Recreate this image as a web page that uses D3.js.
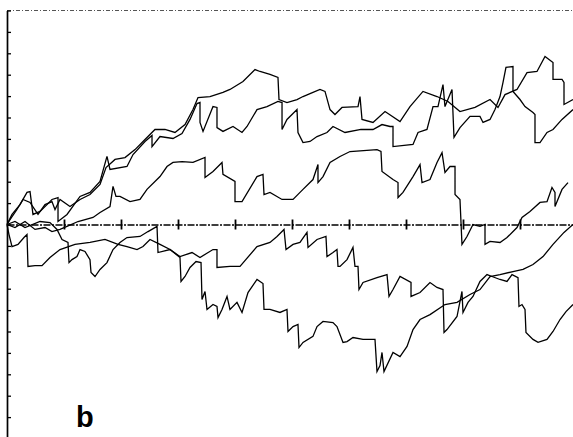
<!DOCTYPE html>
<html>
<head>
<meta charset="utf-8">
<script src="https://cdn.jsdelivr.net/npm/d3@7"></script>
<style>
  html, body { margin: 0; padding: 0; background: #fff; }
  svg { display: block; }
</style>
</head>
<body>
<svg id="chart" width="573" height="437"></svg>
<script>
// Time runs 0..100 (axis marks every 10); values are in axis-mark units, -10..10.
const timeTicks = [10, 20, 30, 40, 50, 60, 70, 80, 90];
const valueTicks = d3.range(-10, 11);
const panelLabel = "b";

// Five sample paths, each as [time, value] pairs.
const walkP = [
  [0,0],[0.53,0.23],[1.75,0.70],[2.81,1.17],[4.04,1.03],[5.44,0.47],[6.67,0.93],[7.89,1.07],
  [8.42,0.70],[9.30,1.17],[11.05,0.84],[12.81,1.17],[14.56,1.40],[16.32,1.87],[17.37,2.66],
  [18.95,3.04],[20.70,3.13],[22.46,3.50],[24.21,3.97],[25.96,4.44],[27.72,4.44],[29.47,4.30],
  [31.23,4.67],[32.63,5.37],[33.51,5.93],[35.61,5.98],[37.89,6.17],[39.12,6.31],[41.40,6.68],
  [43.51,7.24],[44.39,7.15],[46.14,7.01],[47.54,6.87],[47.72,5.84],[49.12,5.70],[50.88,5.84],
  [51.93,5.98],[53.68,6.17],[54.91,6.31],[55.79,6.22],[56.67,5.37],[57.54,5.14],[58.77,5.47],
  [61.58,5.51],[61.93,5.98],[62.28,4.91],[64.21,4.77],[66.32,5.28],[68.95,4.81],[70.70,5.51],
  [72.98,6.22],[75.44,5.98],[77.37,5.75],[79.47,5.28],[82.11,5.47],[84.74,5.84],[86.14,5.47],
  [87.37,6.07],[89.47,6.31],[91.23,7.10],[92.98,7.15],[94.39,7.85],[95.79,7.57],[95.79,6.78],
  [97.37,6.78],[97.72,6.64],[97.72,5.61],[99.30,5.84]
];

const walkU = [
  [0,0],[0.88,0.47],[2.28,0.93],[3.51,1.50],[4.04,1.54],[4.56,0.47],[5.79,0.61],[7.02,0.93],
  [7.89,1.17],[8.95,1.26],[8.95,0.14],[10.53,0.47],[12.81,1.31],[14.56,1.50],[16.32,2.01],
  [17.54,3.18],[18.07,2.57],[21.05,2.71],[22.11,3.27],[24.21,3.88],[25.44,4.16],[25.44,3.64],
  [26.84,4.11],[29.12,4.02],[30.70,4.25],[32.11,4.91],[33.33,5.65],[33.86,5.70],[33.86,4.77],
  [34.39,4.35],[36.14,5.51],[36.84,5.47],[36.84,4.53],[37.89,4.35],[39.65,4.58],[41.23,4.30],
  [42.11,4.58],[43.86,5.37],[45.61,5.51],[47.54,5.75],[48.25,5.70],[48.25,4.44],[49.12,4.91],
  [50.88,5.37],[51.05,4.30],[51.93,3.83],[53.16,3.88],[54.39,4.11],[56.14,4.30],[57.19,4.58],
  [59.30,4.30],[62.11,4.44],[64.21,4.44],[65.79,4.67],[67.19,4.58],[67.72,4.58],[67.72,3.64],
  [71.23,3.74],[72.11,4.30],[73.68,4.44],[74.74,5.51],[75.61,5.51],[76.49,6.54],[76.84,5.51],
  [78.07,6.31],[78.42,4.07],[79.47,4.53],[81.23,5.05],[82.98,5.05],[83.51,4.77],[84.74,4.91],
  [85.61,5.37],[86.49,5.98],[87.02,6.64],[87.54,7.34],[88.77,7.38],[88.77,6.22],[90.00,5.84],
  [90.88,5.51],[92.28,5.23],[92.63,5.14],[92.63,3.83],[93.51,3.83],[94.74,4.30],[95.79,4.44],
  [97.37,4.91],[99.30,5.37]
];

const walkM = [
  [0,0],[1.40,-0.14],[3.16,0.14],[4.91,-0.23],[6.67,-0.14],[7.89,-0.33],[9.30,-0.23],[10.53,-0.09],
  [12.46,0.14],[15.09,0.33],[16.32,0.56],[18.07,0.84],[18.60,1.78],[19.12,1.31],[19.82,1.31],
  [21.58,1.07],[23.33,1.17],[24.56,1.64],[26.84,2.24],[28.07,2.71],[29.12,2.90],[30.70,2.94],
  [32.63,2.90],[34.74,3.13],[34.74,2.20],[36.14,2.48],[37.72,2.90],[37.89,2.34],[40.00,2.01],
  [40.00,1.07],[41.23,1.07],[43.86,2.24],[44.91,2.34],[45.09,1.40],[46.14,1.50],[48.25,1.17],
  [50.18,1.17],[51.93,1.64],[53.68,2.10],[54.56,2.80],[54.56,1.96],[55.44,2.24],[56.67,2.90],
  [58.42,3.18],[60.18,3.41],[64.91,3.50],[65.61,3.41],[65.79,2.48],[67.72,2.10],[68.60,1.96],
  [68.60,1.26],[69.47,1.50],[71.23,2.24],[72.46,2.80],[72.81,1.96],[74.21,2.10],[75.44,2.90],
  [76.32,3.36],[76.84,2.43],[77.72,2.71],[78.60,2.71],[78.60,1.40],[79.47,1.17],[79.82,-0.93],
  [80.70,-0.56],[81.75,0],[82.98,-0.09],[83.86,0],[83.86,-0.93],[84.74,-0.79],[86.49,-0.84],
  [87.72,-0.61],[89.47,-0.14],[90.35,0.33],[91.75,0.61],[93.51,1.03],[94.74,1.07],[95.61,1.73],
  [96.14,1.50],[96.14,0.84],[97.37,1.64],[98.42,1.96]
];

const walkL2 = [
  [0,0],[1.40,0.14],[3.16,-0.14],[5.79,0.14],[7.54,0.09],[8.77,-0.23],[9.65,-0.70],[10.70,-0.84],
  [10.88,-1.78],[11.40,-1.64],[12.28,-1.50],[12.81,-1.17],[13.68,-1.26],[14.56,-1.64],[14.74,-2.24],
  [15.44,-2.43],[16.32,-2.10],[17.54,-1.78],[18.60,-1.17],[19.82,-0.84],[21.05,-0.61],[23.33,-0.56],
  [24.74,-0.33],[26.32,-0.09],[26.49,-1.31],[28.60,-1.17],[30.35,-1.50],[32.46,-1.31],[33.86,-1.54],
  [36.14,-1.17],[36.84,-1.17],[36.84,-2.01],[39.12,-1.96],[40.88,-1.96],[43.86,-1.03],[46.14,-0.84],
  [47.37,-0.56],[48.60,-0.23],[48.95,-1.17],[50.18,-0.93],[51.40,-0.84],[52.63,-0.37],[52.81,-1.07],
  [54.39,-0.70],[55.96,-0.56],[56.14,-1.50],[57.19,-1.31],[57.89,-1.17],[58.07,-1.96],[58.42,-1.96],
  [59.65,-1.64],[60.70,-1.07],[61.05,-1.96],[61.58,-1.96],[61.75,-3.04],[62.46,-2.71],[64.91,-2.48],
  [66.67,-2.34],[67.02,-3.36],[67.72,-3.04],[68.95,-2.43],[70.88,-2.71],[70.88,-3.36],[72.46,-3.18],
  [74.21,-2.71],[75.44,-2.94],[76.49,-3.04],[76.67,-5.05],[77.19,-4.91],[78.95,-4.30],[79.82,-3.13],
  [80.00,-4.11],[80.88,-3.64],[81.75,-3.36],[82.98,-2.66],[84.21,-2.34],[85.09,-2.43],[86.49,-2.57],
  [87.72,-2.66],[88.60,-2.34],[89.65,-2.48],[89.82,-3.83],[90.35,-3.74],[90.88,-3.97],[91.05,-5.05],
  [92.28,-5.37],[93.16,-5.51],[94.74,-5.37],[95.79,-5.00],[97.02,-4.44],[98.07,-4.07],[99.30,-3.74]
];

const walkL1 = [
  [0,0],[0.35,-0.47],[0.88,-1.03],[1.93,-0.93],[2.98,-0.61],[3.51,-0.47],[3.68,-1.96],[4.91,-1.92],
  [6.14,-1.92],[7.54,-1.54],[9.30,-1.17],[11.93,-0.93],[14.56,-0.84],[17.19,-0.70],[19.47,-0.93],
  [21.05,-1.03],[22.81,-1.17],[23.86,-1.03],[25.09,-0.70],[26.84,-0.93],[28.60,-1.17],[30.35,-1.54],
  [30.53,-2.66],[31.23,-2.43],[32.11,-2.01],[33.16,-1.73],[34.04,-1.78],[34.21,-3.50],[34.74,-3.13],
  [35.09,-3.97],[36.14,-3.74],[36.84,-3.83],[37.02,-4.35],[37.72,-3.97],[38.60,-3.36],[39.12,-3.97],
  [40.35,-3.64],[41.23,-4.11],[42.28,-3.18],[43.86,-2.57],[44.91,-2.76],[45.09,-3.97],[46.14,-3.97],
  [47.89,-4.11],[49.12,-3.97],[49.30,-5.00],[50.18,-4.77],[51.05,-4.67],[51.23,-5.75],[51.93,-5.51],
  [53.68,-5.23],[54.39,-4.77],[55.44,-4.53],[57.19,-4.58],[57.89,-4.77],[58.95,-5.51],[59.65,-5.47],
  [60.70,-5.28],[62.46,-5.37],[64.56,-5.37],[64.91,-6.87],[65.44,-6.59],[65.79,-5.98],[66.14,-6.87],
  [67.72,-5.98],[68.95,-6.17],[70.18,-5.70],[71.23,-4.91],[72.46,-4.44],[74.21,-4.21],[76.84,-3.74],
  [78.95,-3.64],[81.23,-3.27],[82.98,-3.04],[84.74,-2.43],[86.49,-2.34],[88.77,-2.20],[90.53,-2.10],
  [92.28,-1.87],[94.04,-1.50],[95.79,-0.93],[97.72,-0.37],[99.30,0]
];

const walks = [walkP, walkU, walkM, walkL2, walkL1];

const svg = d3.select("#chart");

const x = d3.scaleLinear().domain([0, 100]).range([7, 577]);
const y = d3.scaleLinear().domain([-10, 10]).range([438.5, 10.5]);

// faint top border
svg.append("line")
  .attr("x1", 7).attr("x2", 573)
  .attr("y1", y(10)).attr("y2", y(10))
  .attr("stroke", "#555").attr("stroke-width", 1)
  .attr("stroke-dasharray", "4,2,1,2");

// vertical value axis with inward ticks
const yAxis = svg.append("g")
  .attr("transform", `translate(${x(0)},0)`)
  .call(d3.axisRight(y).tickValues(valueTicks).tickSize(4).tickSizeOuter(0).tickFormat(""));
yAxis.select(".domain").attr("stroke", "#000").attr("stroke-width", 1.7);
yAxis.selectAll(".tick line").attr("stroke", "#000").attr("stroke-width", 1.3);

// horizontal zero line with crossing ticks
const xAxis = svg.append("g")
  .attr("transform", `translate(0,${y(0)})`)
  .call(d3.axisBottom(x).tickValues(timeTicks).tickSize(0).tickSizeOuter(0).tickFormat(""));
xAxis.select(".domain").attr("stroke", "#000").attr("stroke-width", 1.3)
  .attr("stroke-dasharray", "7,1.5,2,1.5");
xAxis.selectAll(".tick line")
  .attr("y1", -5).attr("y2", 5)
  .attr("stroke", "#000").attr("stroke-width", 1.8);

// sample paths
const line = d3.line().x(d => x(d[0])).y(d => y(d[1]));
svg.append("g")
  .selectAll("path")
  .data(walks)
  .join("path")
  .attr("d", line)
  .attr("fill", "none")
  .attr("stroke", "#000")
  .attr("stroke-width", 1.3)
  .attr("stroke-linejoin", "miter");

// panel label
svg.append("text")
  .attr("x", 76).attr("y", 427)
  .attr("font-family", "Liberation Sans, Arial, sans-serif")
  .attr("font-weight", "bold")
  .attr("font-size", 29)
  .attr("fill", "#000")
  .text(panelLabel);
</script>
</body>
</html>
